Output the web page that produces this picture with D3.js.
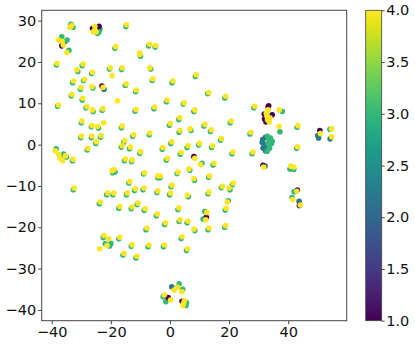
<!DOCTYPE html>
<html>
<head>
<meta charset="utf-8">
<script src="https://cdn.jsdelivr.net/npm/d3@7"></script>
<style>
body{margin:0;background:#fff;}
svg{display:block;}
text{font-family:"DejaVu Sans",sans-serif;}
</style>
</head>
<body>
<div id="chart"></div>
<script>
// embedding points, grouped by colour value
var tealPts = [[-35.6,24.9],[-22.3,13.4],
  [31.2,0.5],[31.5,-0.8],[32.3,-1.5],[32.3,1.8],[31.4,1.2],[32.0,0.0],[32.8,-0.4],
  [50.3,1.6],[50.0,2.2],[54.2,1.4],[43.7,-13.7],[0.6,-34.4],[32.2,-5.2],[8.2,-3.0]];
var greenPts = [[-33.5,29.1],[-32.8,28.4],[-24.0,27.3],[-23.7,27.9],[-24.5,26.9],[-36.6,26.1],[-34.8,25.3],[-34.2,22.8],
  [-14.9,28.6],[-18.6,23.3],[-7.2,23.9],[-5.0,23.6],[-10.0,21.4],
  [-38.4,19.3],[-29.7,19.1],[-31.2,17.7],[-26.5,17.2],[-20.5,18.3],
  [-32.9,15.0],[-29.2,15.5],[-30.3,13.4],[-26.1,13.7],
  [-33.4,11.8],[-29.7,10.8],[-38.0,9.3],[-28.4,8.9],[-26.0,8.0],[-22.9,8.3],
  [-30.0,5.3],[-26.6,4.3],[-24.2,4.0],
  [-30.2,1.7],[-26.6,1.7],[-23.5,1.8],[-25.1,0.3],[-28.0,-1.3],
  [-38.5,-1.0],[-36.0,-2.3],[-35.0,-3.0],[-37.0,-3.0],[-33.0,-3.9],
  [-15.1,14.3],[-16.4,18.2],[-6.5,18.3],[-6.0,15.5],[0.7,15.0],[-11.6,12.8],[-1.2,10.4],[4.5,9.8],
  [-11.8,8.1],[-5.4,8.7],[8.1,8.0],[3.0,6.1],[-0.2,4.7],[-16.4,4.1],[3.1,3.0],[7.1,3.4],
  [-12.6,2.0],[-7.0,2.4],[-15.6,0.6],[-16.5,-0.6],[-13.7,-1.0],[-2.6,-1.1],[0.3,0.3],[5.8,-0.7],
  [-10.2,-2.1],[3.5,-2.3],[-15.4,-3.9],[-13.0,-4.1],[-1.2,-3.7],
  [8.6,16.5],[12.8,12.3],[18.6,11.3],[28.4,8.9],
  [33.5,1.2],[34.3,0.2],[33.7,-0.9],[34.0,1.6],[33.0,2.0],[32.9,-1.6],[33.2,0.3],[34.6,0.8],
  [11.5,4.5],[13.7,3.2],[20.4,5.3],[27.1,2.6],[17.1,1.1],[9.7,-0.1],[14.1,-0.7],[21.0,-2.2],[27.8,-2.2],
  [10.8,-4.5],[14.6,-4.9],[38.0,8.0],[37.2,3.1],[43.0,4.2],[54.1,3.7],[42.9,-0.9],
  [40.6,-5.9],[41.9,-6.0],[42.0,-11.4],[41.3,-12.8],
  [-19.4,-6.8],[-18.6,-6.6],[-32.7,-10.9],[-21.4,-12.1],[-19.3,-12.1],[-23.9,-14.3],[-17.3,-15.4],
  [-21.9,-24.0],[-20.0,-23.9],[-22.6,-22.5],[-20.4,-24.5],[-17.3,-22.8],
  [-8.9,-7.1],[-4.1,-8.0],[-3.4,-8.0],[2.4,-7.0],[6.7,-6.2],[-13.9,-9.3],[8.3,-8.6],
  [-14.7,-12.1],[-12.0,-11.1],[-9.1,-10.9],[-4.4,-11.6],[0.4,-10.2],[-0.1,-12.1],[6.2,-12.6],
  [-13.1,-15.5],[-11.1,-14.5],[-8.7,-15.9],[2.7,-15.7],[-4.6,-17.2],[-1.8,-19.3],[3.1,-18.6],[5.8,-18.9],[8.4,-20.8],[-8.1,-20.6],
  [-13.1,-24.6],[-7.4,-24.7],[-2.2,-24.7],[3.8,-22.7],[5.6,-25.6],[-15.9,-26.7],[-11.5,-27.4],
  [3.1,-33.7],[4.3,-35.0],[-2.3,-36.8],[-1.4,-38.0],[5.6,-38.2],[5.4,-38.9],
  [13.1,-7.9],[17.4,-10.4],[20.3,-10.9],[21.1,-9.7],[12.9,-11.9],[19.7,-13.6],[18.7,-15.8],
  [11.8,-16.2],[11.2,-18.0],[18.5,-20.0],[12.9,-20.6]];
var purplePts = [[-26.2,28.1],[-24.0,28.6],[-36.6,23.9],[-23.0,14.2],
  [33.2,9.1],[31.9,7.4],[32.5,5.5],[34.6,7.2],[33.4,9.4],[32.0,6.2],
  [50.7,3.4],[31.5,-5.0],[43.8,-14.7],[-0.6,-37.0],[4.1,-37.9],[8.1,-2.9],[12.3,-17.6],[43.1,-11.0]];
var yellowPts = [[-33.8,28.4],[-33.2,28.8],[-25.4,28.6],[-25.5,27.6],[-25.0,27.3],[-26.0,27.3],
  [-37.8,25.3],[-36.5,25.0],[-36.1,24.1],[-34.9,22.3],
  [-14.7,29.0],[-18.3,23.7],[-6.9,24.3],[-4.8,24.0],[-10.3,22.2],[-10.2,21.8],
  [-38.2,19.7],[-29.4,19.5],[-31.5,18.1],[-26.2,17.5],[-20.2,18.6],[-19.6,16.7],
  [-32.6,15.4],[-28.9,15.8],[-30.1,13.8],[-26.4,14.0],[-22.6,13.9],
  [-33.2,12.2],[-29.5,11.2],[-17.8,10.6],[-37.7,9.6],[-28.1,9.2],[-26.2,8.4],[-22.7,8.7],
  [-29.8,5.7],[-26.4,4.6],[-24.5,4.4],[-22.4,5.3],
  [-30.0,2.1],[-26.4,2.1],[-23.3,2.2],[-24.9,0.7],[-27.8,-0.9],
  [-38.8,-1.5],[-37.6,-2.4],[-36.3,-3.9],[-35.3,-2.7],[-37.2,-3.3],[-32.8,-3.5],
  [-14.8,14.7],[-16.2,18.6],[-6.8,18.6],[-5.8,15.9],[1.0,15.4],[-11.4,13.2],[-1.0,10.8],[4.8,10.1],
  [-11.5,8.5],[-5.2,9.1],[8.4,8.4],[3.3,6.5],[0.1,5.1],[-16.2,4.5],[3.4,3.4],[6.8,3.8],
  [-12.3,2.4],[-6.8,2.8],[-15.3,1.0],[-16.2,-0.2],[-13.4,-0.6],[-2.4,-0.7],[0.6,0.7],[6.1,-0.3],
  [-10.0,-1.7],[3.8,-1.9],[-15.1,-3.5],[-12.8,-3.7],[-0.9,-3.3],[8.4,-3.3],
  [8.9,16.9],[13.1,12.6],[18.9,11.7],[28.7,9.3],
  [33.2,8.4],[32.8,6.9],[33.8,6.5],[33.6,5.5],[32.6,7.6],[33.0,6.0],
  [11.8,4.9],[14.0,3.6],[20.7,5.7],[27.4,3.0],[17.4,1.5],[10.0,0.3],[14.4,-0.3],[21.3,-1.8],[28.1,-1.8],
  [10.3,-4.8],[14.9,-4.5],[31.7,-5.4],[37.0,8.4],[36.9,4.4],[43.3,4.6],
  [50.9,2.7],[54.7,3.8],[54.7,1.9],[43.2,-0.5],[40.9,-5.2],[41.9,-5.4],
  [42.9,-11.3],[41.5,-13.3],[44.1,-14.6],
  [-19.6,-6.3],[-18.9,-6.0],[-32.4,-10.5],[-21.1,-11.7],[-19.0,-11.7],[-23.6,-13.9],[-17.0,-15.0],
  [-22.4,-22.0],[-20.7,-22.8],[-21.3,-24.4],[-23.8,-25.2],[-17.0,-22.4],
  [-8.6,-6.8],[-4.1,-7.6],[-3.3,-7.6],[2.7,-6.7],[6.4,-5.9],[-13.6,-8.9],[8.1,-8.2],
  [-14.4,-11.7],[-11.7,-10.7],[-8.8,-10.5],[-4.1,-11.2],[0.7,-9.8],[0.2,-11.7],[5.9,-12.2],
  [-12.8,-15.1],[-10.8,-14.1],[-8.4,-15.5],[3.0,-15.3],[-4.3,-16.8],[-1.5,-18.9],[3.4,-18.2],[6.1,-18.5],[8.1,-20.4],[-7.8,-20.2],
  [-12.8,-24.2],[-7.1,-24.3],[-1.9,-24.3],[4.1,-22.3],[5.9,-25.2],[-15.6,-26.3],[-11.2,-27.0],
  [1.4,-35.2],[2.6,-34.5],[4.0,-35.6],[-1.9,-36.4],[0.2,-37.6],[4.6,-38.4],[4.9,-37.8],[4.4,-39.0],
  [13.4,-7.6],[17.7,-10.1],[20.0,-10.5],[21.4,-9.3],[13.2,-11.5],[19.4,-13.9],[19.0,-15.4],
  [12.5,-16.4],[12.1,-18.2],[18.8,-19.6],[13.2,-20.2]];

var groupVals = [2.2, 3.0, 1.0, 4.0];
var xTicks = [-40, -20, 0, 20, 40];
var yTicks = [-40, -30, -20, -10, 0, 10, 20, 30];
var cbTicks = [1.0, 1.5, 2.0, 2.5, 3.0, 3.5, 4.0];

function init(){
  var w = 415, h = 345;
  var left = 41.7, right = 346.7, top = 10.3, bottom = 320.7;

  var svg = d3.select("#chart").append("svg")
    .attr("width", w).attr("height", h);

  var x = d3.scaleLinear().domain([-43.4, 59.8]).range([left, right]);
  var y = d3.scaleLinear().domain([-42.6, 32.5]).range([bottom, top]);
  var color = d3.scaleSequential(d3.interpolateViridis).domain([1, 4]);

  var groups = [tealPts, greenPts, purplePts, yellowPts];
  var pts = svg.append("g");
  groups.forEach(function(g, i){
    pts.selectAll(null)
      .data(g)
      .enter()
      .append("circle")
      .attr("cx", function(d){ return x(d[0]); })
      .attr("cy", function(d){ return y(d[1]); })
      .attr("r", 2.8)
      .attr("fill", color(groupVals[i]));
  });

  // frame
  svg.append("rect")
    .attr("x", left).attr("y", top)
    .attr("width", right - left).attr("height", bottom - top)
    .attr("fill", "none").attr("stroke", "#444").attr("stroke-width", 1);

  var xAxis = svg.append("g")
    .attr("transform", "translate(0," + bottom + ")")
    .call(d3.axisBottom(x).tickValues(xTicks).tickSize(3.5).tickPadding(2.5));
  var yAxis = svg.append("g")
    .attr("transform", "translate(" + left + ",0)")
    .call(d3.axisLeft(y).tickValues(yTicks).tickSize(3.5).tickPadding(2));
  [xAxis, yAxis].forEach(function(a){
    a.select(".domain").remove();
    a.selectAll("line").attr("stroke", "#444");
    a.selectAll("text").attr("font-size", "14.5px").attr("fill", "#111")
      .attr("font-family", "DejaVu Sans");
  });

  // colorbar
  var cbX = 365.7, cbW = 16;
  var cb = d3.scaleLinear().domain([1, 4]).range([bottom, top]);
  var grad = svg.append("defs").append("linearGradient")
    .attr("id", "vir").attr("x1", 0).attr("y1", 1).attr("x2", 0).attr("y2", 0);
  d3.range(0, 1.0001, 0.05).forEach(function(t){
    grad.append("stop").attr("offset", t).attr("stop-color", d3.interpolateViridis(t));
  });
  svg.append("rect")
    .attr("x", cbX).attr("y", top)
    .attr("width", cbW).attr("height", bottom - top)
    .attr("fill", "url(#vir)").attr("stroke", "#444").attr("stroke-width", 0.8);
  var cAxis = svg.append("g")
    .attr("transform", "translate(" + (cbX + cbW) + ",0)")
    .call(d3.axisRight(cb).tickValues(cbTicks).tickFormat(d3.format(".1f")).tickSize(3).tickPadding(1.5));
  cAxis.select(".domain").remove();
  cAxis.selectAll("line").attr("stroke", "#444");
  cAxis.selectAll("text").attr("font-size", "14.5px").attr("fill", "#111")
    .attr("font-family", "DejaVu Sans");
}
window.onload = init;
</script>
</body>
</html>
